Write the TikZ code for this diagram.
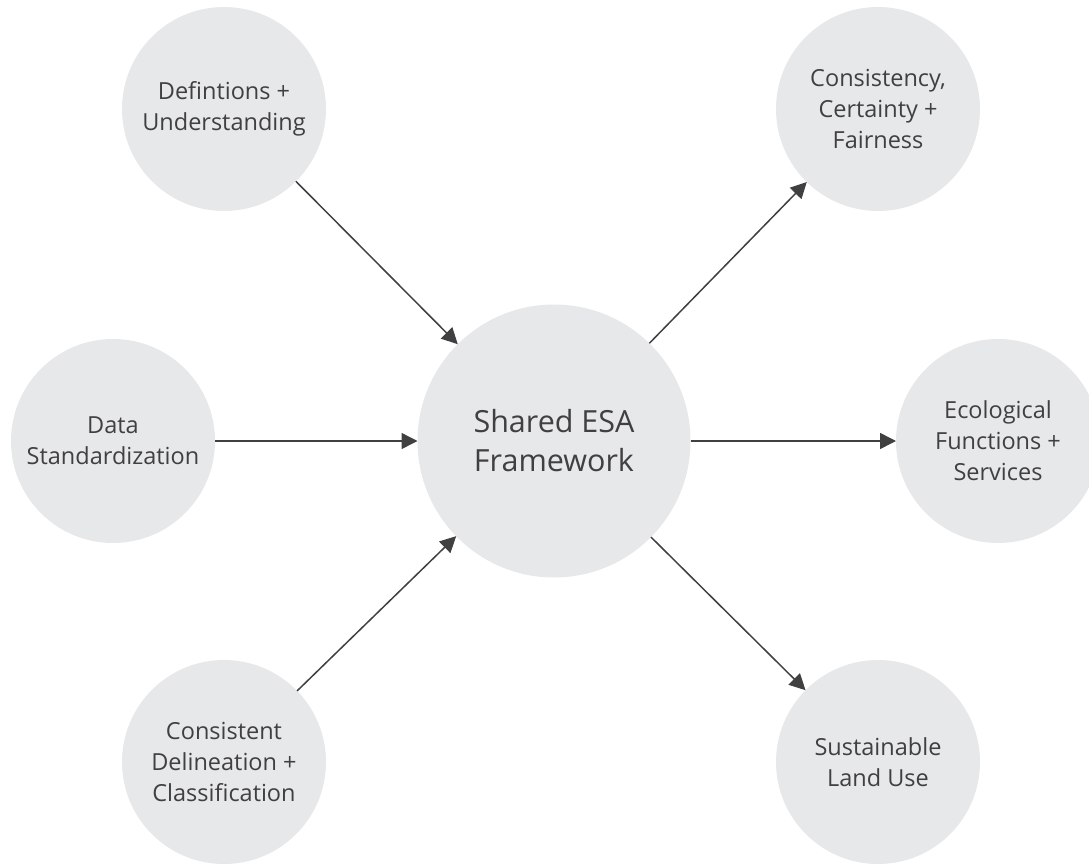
\documentclass[tikz,border=0pt]{standalone}
\usepackage{fontspec}
\setmainfont{Open Sans}
\usetikzlibrary{arrows.meta}
\definecolor{bubblegray}{RGB}{231,232,234}
\definecolor{inkgray}{RGB}{64,64,64}
\tikzset{
  bubble/.style={circle, fill=bubblegray, text=inkgray, inner sep=0pt, outer sep=0pt,
    minimum size=204pt, align=center, font=\fontsize{23.5}{31}\selectfont},
  hub/.style={bubble, minimum size=273pt, font=\fontsize{30.5}{39}\selectfont},
  link/.style={draw=inkgray, line width=1.5pt, -{Triangle[length=16pt,width=16pt]}}
}
\begin{document}
\begin{tikzpicture}[x=1pt,y=-1pt]
  \clip (0,0) rectangle (1089,864);
  % centre
  \node[hub] (esa) at (554,441) {Shared ESA\\Framework};
  % inputs
  \node[bubble] (defs) at (224,109) {Defintions +\\Understanding};
  \node[bubble] (data) at (113,441) {Data\\Standardization};
  \node[bubble] (delin) at (224,762) {Consistent\\Delineation +\\Classification};
  % outcomes
  \node[bubble] (fair) at (878,109) {Consistency,\\Certainty +\\Fairness};
  \node[bubble] (eco) at (998,441) {Ecological\\Functions +\\Services};
  \node[bubble] (land) at (878,762) {Sustainable\\Land Use};
  \foreach \a/\b in {defs/esa, data/esa, delin/esa, esa/fair, esa/eco, esa/land}
    \draw[link] (\a) -- (\b);
\end{tikzpicture}
\end{document}
